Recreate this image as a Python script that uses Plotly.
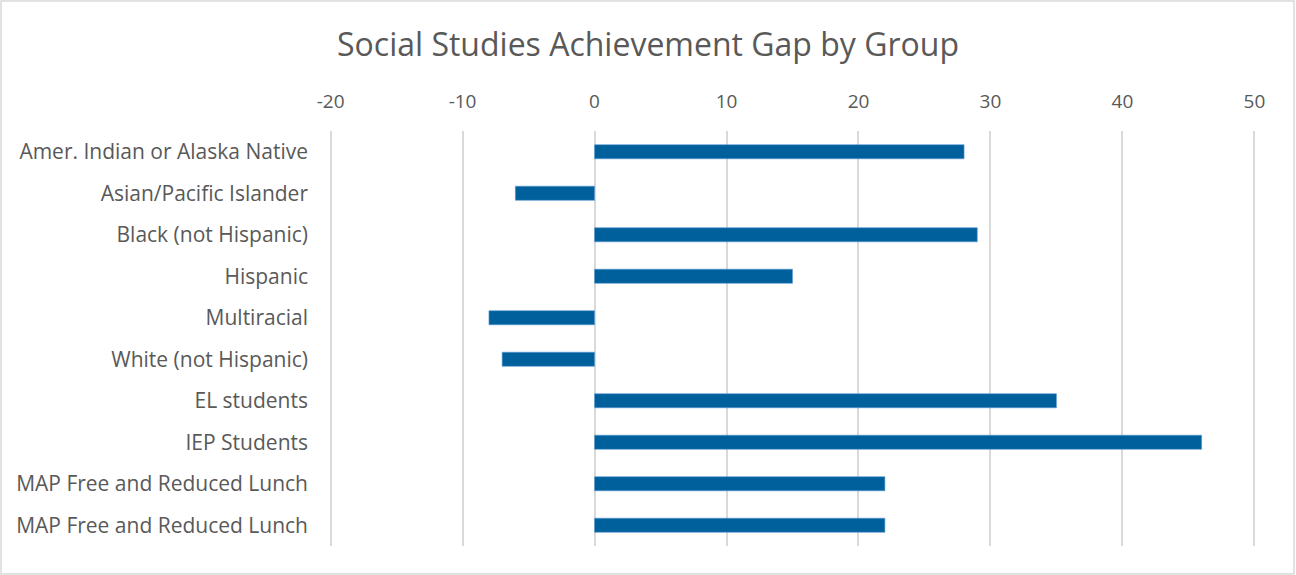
import plotly.graph_objects as go

categories = [
    "Amer. Indian or Alaska Native",
    "Asian/Pacific Islander",
    "Black (not Hispanic)",
    "Hispanic",
    "Multiracial",
    "White (not Hispanic)",
    "EL students",
    "IEP Students",
    "MAP Free and Reduced Lunch",
    "MAP Free and Reduced Lunch",
]
gap_values = [28, -6, 29, 15, -8, -7, 35, 46, 22, 22]
x_ticks = [-20, -10, 0, 10, 20, 30, 40, 50]

positions = list(range(len(categories)))

W, H = 1296, 575
ml, mr, mt, mb = 329, 40, 131, 29
pw, ph = W - ml - mr, H - mt - mb

fig = go.Figure()
fig.add_trace(go.Bar(
    x=gap_values,
    y=positions,
    orientation="h",
    width=0.34,
    marker=dict(color="#00609C", line=dict(color="#5b9bd5", width=0.6)),
    hoverinfo="x+y",
))

font_family = "Open Sans, Noto Sans, DejaVu Sans, sans-serif"
fig.update_layout(
    width=W, height=H,
    margin=dict(l=ml, r=mr, t=mt, b=mb),
    paper_bgcolor="white",
    plot_bgcolor="white",
    showlegend=False,
    title=dict(
        text="Social Studies Achievement Gap by Group",
        x=648 / W, xref="container", xanchor="center",
        y=1 - 45 / H, yref="container", yanchor="middle",
        font=dict(family=font_family, size=32, color="#595959"),
    ),
    font=dict(family=font_family, color="#595959"),
    xaxis=dict(
        side="top",
        range=[-20.12, 50.12],
        tickvals=x_ticks,
        ticktext=[str(v) for v in x_ticks],
        showgrid=True,
        gridcolor="#d9d9d9",
        gridwidth=1.5,
        zeroline=True,
        zerolinecolor="#d9d9d9",
        zerolinewidth=1.5,
        showline=False,
        ticks="",
        ticklabelstandoff=18,
        tickfont=dict(size=19, color="#595959"),
        fixedrange=True,
    ),
    yaxis=dict(
        tickvals=positions,
        ticktext=categories,
        range=[len(categories) - 0.5, -0.5],
        showgrid=False,
        zeroline=False,
        showline=False,
        ticks="",
        ticklabelstandoff=20,
        tickfont=dict(size=21, color="#595959"),
        fixedrange=True,
    ),
)

fig.add_shape(
    type="rect", xref="paper", yref="paper",
    x0=(1 - ml) / pw, x1=(1294 - ml) / pw,
    y0=-(mb - 1) / ph, y1=1 + (mt - 1) / ph,
    line=dict(color="#d9d9d9", width=1.5),
    fillcolor="rgba(0,0,0,0)",
    layer="below",
)

fig.write_html(
    "out.html",
    config={"displayModeBar": False},
    post_script="document.body.style.margin='0';document.body.style.overflow='hidden';",
)
